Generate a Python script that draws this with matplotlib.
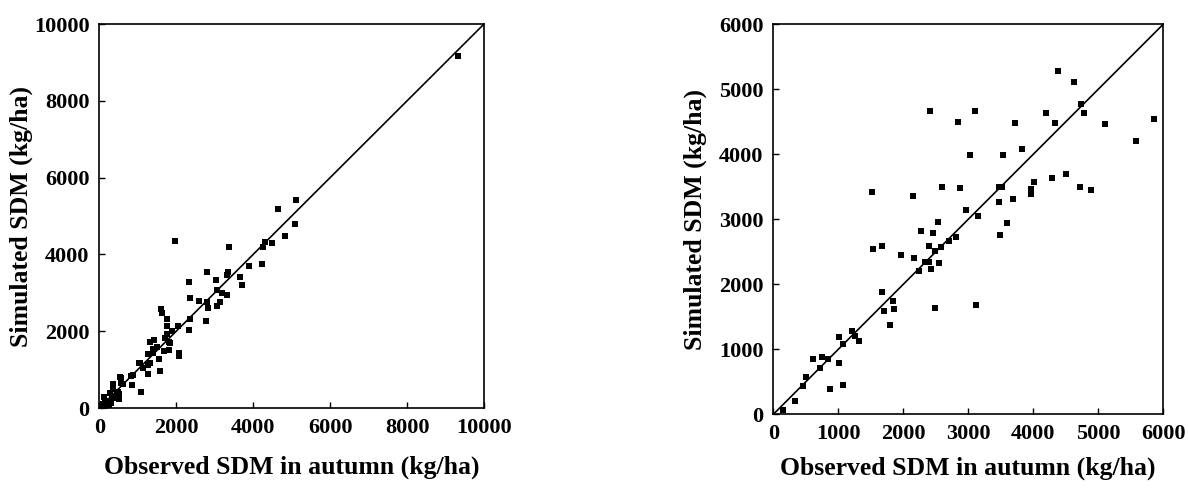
import matplotlib
matplotlib.use("Agg")
from matplotlib import pyplot as plt

# left panel: observed vs simulated SDM (kg/ha)
obs_left = [9330, 5110, 4645, 5090, 4835, 4500, 4315, 4250, 4230, 3890,
            3370, 1970, 3665, 3700, 3340, 3320, 2800, 3035, 2330, 3050,
            3190, 3330, 2350, 2600, 2795, 3140, 2835, 3050, 1596, 1638,
            1752, 2350, 2775, 1760, 2038, 1900, 2340, 1752, 1708, 1320,
            1422, 1492, 1804, 1846, 1404, 1266, 1404, 1682, 1820, 1560,
            2080, 2064, 1058, 1144, 1266, 1318, 1266, 1578, 884, 850,
            572, 572, 1084, 348, 348, 504, 278, 122, 434, 244,
            104, 237, 62, 140, 208, 260, 330, 364, 520, 556,
            174, 304, 538, 608, 824, 1040, 30, 80, 150, 420, 480, 610]
sim_left = [9160, 5425, 5175, 4800, 4470, 4305, 4330, 4200, 3750, 3705,
            4195, 4340, 3410, 3205, 3530, 3455, 3540, 3335, 3275, 3075,
            3005, 2935, 2860, 2775, 2750, 2750, 2615, 2655, 2570, 2485,
            2326, 2326, 2275, 2135, 2135, 2015, 2030, 1927, 1831, 1727,
            1771, 1597, 1727, 1684, 1528, 1406, 1424, 1476, 1510, 1268,
            1424, 1354, 1163, 1033, 1120, 1163, 885, 955, 859, 599,
            790, 659, 408, 599, 486, 356, 382, 295, 252, 191,
            104, 78, 20, 122, 165, 69, 252, 625, 226, 642,
            122, 138, 815, 617, 833, 1164, 40, 15, 60, 320, 410, 620]

# right panel
obs_right = [150, 330, 460, 500, 615, 745, 720, 845, 870, 1010,
             1010, 1070, 1070, 1205, 1260, 1320, 1530, 1680, 1670, 1710,
             1790, 1850, 1865, 1965, 2165, 2245, 2280, 2335, 2400, 2400,
             2430, 2465, 2490, 2490, 2540, 2550, 2585, 2700, 2805, 2970,
             3155, 3120, 3470, 3490, 3600, 4385, 4625, 4735, 4790, 5110,
             5860, 5580, 2405, 3100, 2850, 3715, 4205, 4335, 3030, 3535,
             3830, 1525, 2145, 2590, 2880, 3475, 3520, 4020, 4295, 4510,
             4720, 4885, 3960, 3960, 3695]
sim_right = [70, 200, 435, 575, 850, 880, 720, 850, 385, 790,
             1190, 1085, 445, 1285, 1205, 1130, 2545, 2585, 1875, 1595,
             1375, 1745, 1615, 2455, 2400, 2210, 2815, 2345, 2345, 2585,
             2235, 2790, 2520, 1630, 2960, 2325, 2570, 2670, 2725, 3140,
             3050, 1685, 3270, 2760, 2945, 5285, 5120, 4770, 4630, 4470,
             4540, 4200, 4665, 4660, 4500, 4490, 4630, 4490, 3985, 3985,
             4080, 3415, 3355, 3500, 3490, 3495, 3495, 3570, 3630, 3695,
             3505, 3450, 3460, 3385, 3310]

plt.rcParams['font.family'] = ['Liberation Serif', 'DejaVu Serif']
plt.rcParams['font.weight'] = 'bold'

fig = plt.figure(figsize=(11.89, 4.88), dpi=100)
ax1 = fig.add_axes([0.0835, 0.1639, 0.3236, 0.7869])
ax2 = fig.add_axes([0.6504, 0.151, 0.3278, 0.799])

# lim, tick step, ylabel x / xlabel y in axes coords
panels = [(ax1, obs_left, sim_left, 10000, 2000, -0.172, -0.125),
          (ax2, obs_right, sim_right, 6000, 1000, -0.170, -0.108)]

for ax, xs, ys, lim, step, ylx, xly in panels:
    ax.plot([0, lim], [0, lim], color='black', lw=1.2, zorder=1)
    ax.scatter(xs, ys, marker='s', s=18, color='black', linewidths=0, zorder=2)
    ax.set_xlim(0, lim)
    ax.set_ylim(0, lim)
    ax.set_xticks(range(0, lim + 1, step))
    ax.set_yticks(range(0, lim + 1, step))
    ax.tick_params(direction='in', length=4, width=1, labelsize=16, pad=7)
    for lab in ax.get_xticklabels() + ax.get_yticklabels():
        lab.set_fontweight('bold')
    for sp in ax.spines.values():
        sp.set_linewidth(1.2)
    ax.set_xlabel('Observed SDM in autumn (kg/ha)', fontsize=18.5, fontweight='bold')
    ax.set_ylabel('Simulated SDM (kg/ha)', fontsize=18.5, fontweight='bold')
    ax.yaxis.set_label_coords(ylx, 0.5)
    ax.xaxis.set_label_coords(0.5, xly)

fig.savefig('out.png', dpi=100)
